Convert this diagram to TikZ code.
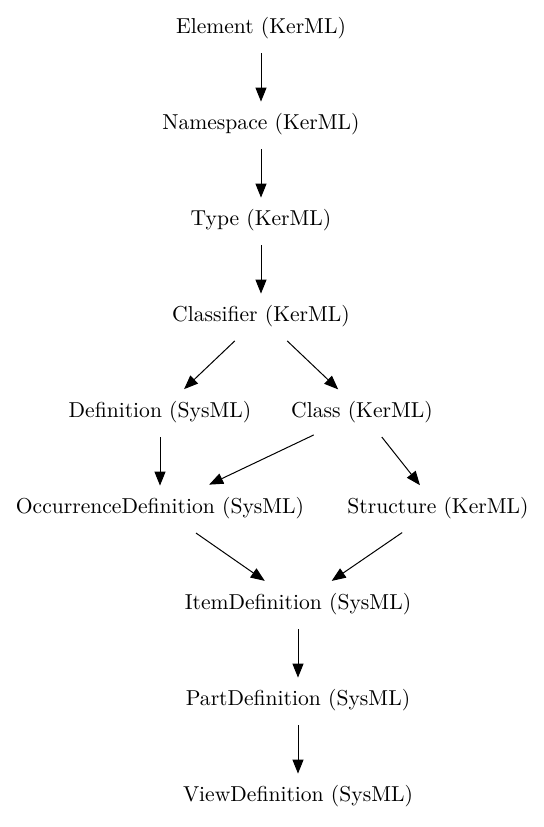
\documentclass[tikz,border=0pt]{standalone}
\usetikzlibrary{shapes.geometric,arrows.meta}
\begin{document}
\begin{tikzpicture}[x=0.5pt,y=-0.5pt,
  gv/.style={ellipse,inner xsep=4pt,inner ysep=1pt,minimum height=25pt,
    font=\fontsize{10.8}{12}\selectfont},
  edge/.style={-{Triangle[length=7pt,width=5.5pt]},line width=0.5pt,shorten >=-1.5pt}]
\useasboundingbox[fill=white] (0,0) rectangle (543,827);
\node[gv] (element) at (261,28) {Element (KerML)};
\node[gv] (namespace) at (261,124) {Namespace (KerML)};
\node[gv] (type) at (261,220) {Type (KerML)};
\node[gv] (classifier) at (261,316) {Classifier (KerML)};
\node[gv] (definition) at (160,412) {Definition (SysML)};
\node[gv] (class) at (362,412) {Class (KerML)};
\node[gv] (occurrence) at (160,508) {OccurrenceDefinition (SysML)};
\node[gv] (structure) at (438,508) {Structure (KerML)};
\node[gv] (item) at (298,604) {ItemDefinition (SysML)};
\node[gv] (part) at (298,700) {PartDefinition (SysML)};
\node[gv] (view) at (298,796) {ViewDefinition (SysML)};
\draw[edge] (element) -- (namespace);
\draw[edge] (namespace) -- (type);
\draw[edge] (type) -- (classifier);
\draw[edge] (classifier) -- (definition);
\draw[edge] (classifier) -- (class);
\draw[edge] (definition) -- (occurrence);
\draw[edge] (class) -- (occurrence);
\draw[edge] (class) -- (structure);
\draw[edge] (occurrence) -- (item);
\draw[edge] (structure) -- (item);
\draw[edge] (item) -- (part);
\draw[edge] (part) -- (view);
\end{tikzpicture}
\end{document}
